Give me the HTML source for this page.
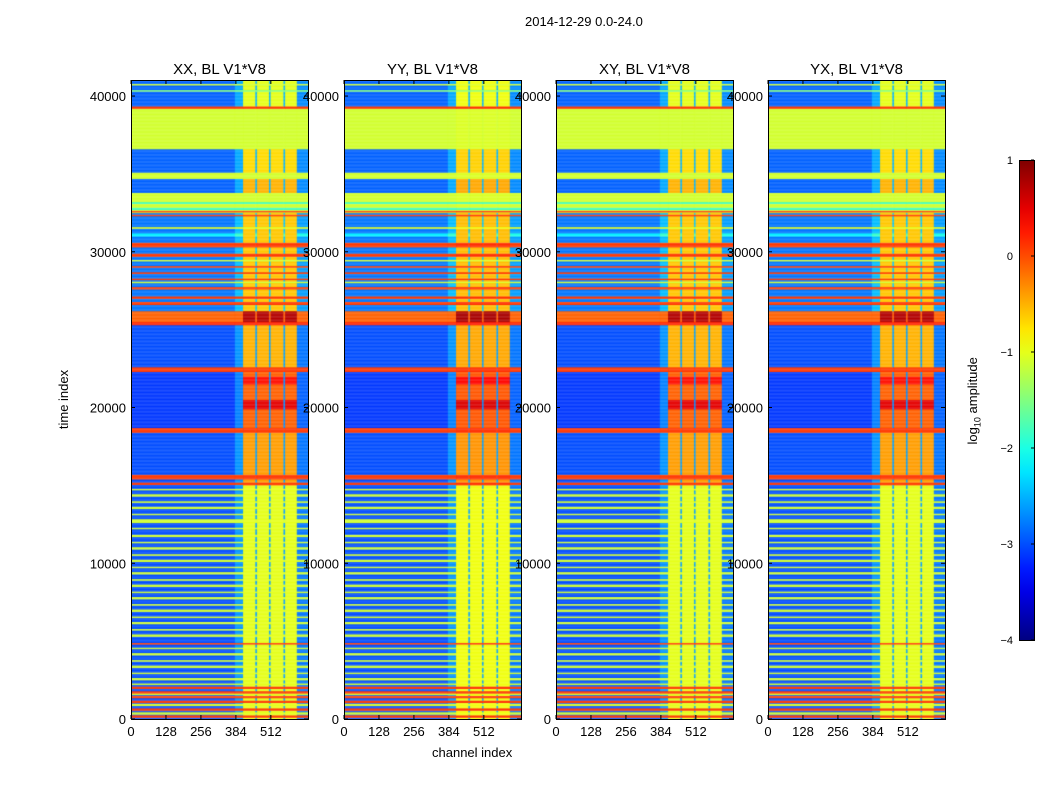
<!DOCTYPE html>
<html><head><meta charset="utf-8"><style>
body{margin:0;background:#fff;font-family:"Liberation Sans",sans-serif;}
#wrap{position:relative;width:1050px;height:800px;overflow:hidden;background:#fff}
.t{position:absolute;font-size:13px;color:#000;white-space:nowrap}
canvas{position:absolute}
</style></head><body>
<div id="wrap">
<div class="t" style="left:525px;top:14px">2014-12-29 0.0-24.0</div>
<div class="t" style="left:432px;top:745px">channel index</div>
<div class="t" style="left:34px;top:392px;transform:rotate(-90deg);transform-origin:center">time index</div>
<div class="t" style="left:930px;top:392px;transform:rotate(-90deg);transform-origin:center">log<sub style="font-size:9px">10</sub> amplitude</div>
<svg id="ax" width="1050" height="800" style="position:absolute;left:0;top:0"></svg>
</div>
<script>
const panelTitles=["XX, BL V1*V8","YY, BL V1*V8","XY, BL V1*V8","YX, BL V1*V8"];
const panelLefts=[131,344,556,768];
const xTicks=[0,128,256,384,512];
const yTicks=[0,10000,20000,30000,40000];
const cbTicks=[1,0,-1,-2,-3,-4];
const panelRfiOffset=[0,0.05,0,0];
// column bands [chStart, chEnd, kind]
const colBands=[[0,380,"bg"],[380,410,"sh"],[410,455,"rfi"],[455,461,"gap"],[461,505,"rfi"],[505,511,"gap"],[511,558,"rfi"],[558,564,"gap"],[564,607,"rfi"],[607,648,"edge"]];
// regimes [t0,t1,bgLevel,rfiLevel]
const regimes=[[0,15000,-3.0,-1.0],[15000,18400,-3.0,-0.4],[18400,22400,-3.1,-0.1],[22400,25500,-3.0,-0.5],[25500,26200,-0.1,0.75],[26200,32500,-2.8,-0.6],[32500,33800,-1.1,-1.1],[33800,34700,-2.9,-0.5],[34700,35100,-1.1,-1.1],[35100,36600,-2.9,-0.7],[36600,39200,-1.1,-1.1],[39200,41100,-2.9,-1.0]];
// overlay lines [t0,t1,bgLevel,rfiLevel]
const lines=[[100,250,0.1,0.1],[550,700,0.1,0.1],[1050,1200,0.1,0.1],[1350,1500,0.1,0.1],[1650,1800,0.1,0.1],[1950,2100,0.1,0.1],[4800,4900,0.1,0.1],
[19900,20500,-3.1,0.5],[21500,22000,-3.1,0.3],[18400,18700,0.1,0.1],[22300,22600,0.1,0.1],[15400,15700,0.1,0.1],[15050,15200,0.1,0.1],
[25300,25500,0.2,0.2],[26600,26800,0.1,0.1],[27000,27150,0.1,0.1],[27600,27750,0.1,0.1],[28200,28300,0.1,0.1],[28600,28700,0.1,0.1],[29000,29100,0.1,0.1],
[29700,29900,0.1,0.1],[30300,30600,0.1,0.1],[31500,31600,-1.0,-1.0],[32300,32400,0.1,0.1],[32550,32650,0.1,0.1],[32700,32850,-1.8,-1.8],[39200,39350,0.1,0.1],
[40300,40400,-1.5,-1.5],[40700,40800,-1.1,-1.1],[28000,28100,-1.1,-1.1],[29400,29500,-1.1,-1.1],[31000,31200,-2.2,-0.6],[33100,33200,-1.9,-1.9]];
// yellow-green stripes in the flagged-scan region [t0,t1]
const stripes=[[14700,14800],[14300,14450],[13900,14000],[13500,13650],[13100,13200],[12600,12850],[12200,12300],[11700,11850],[11300,11400],[10900,11050],[10500,10600],[10100,10250],[9700,9800],[9300,9450],[8900,9000],[8500,8650],[8100,8200],[7700,7850],[7300,7400],[6900,7050],[6500,6600],[6100,6250],[5700,5800],[5300,5450],[4500,4600],[4100,4250],[3700,3800],[3300,3450],[2900,3000],[2500,2650],[2200,2300],[1550,1650],[850,1000],[300,450]];

function jet(v){let x=(v+4)/5;x=Math.max(0,Math.min(1,x));
 const c=a=>Math.round(255*Math.max(0,Math.min(1,1.5-Math.abs(4*x-a))));return `rgb(${c(3)},${c(2)},${c(1)})`;}
function levels(t){let bg=-3,rf=-1;
 for(const r of regimes){if(t>=r[0]&&t<r[1]){bg=r[2];rf=r[3];}}
 for(const s of stripes){if(t>=s[0]&&t<s[1]){bg=-1.1;}}
 for(const l of lines){if(t>=l[0]&&t<l[1]){bg=l[2];rf=l[3];}}
 return [bg,rf];}
const T0=0,T1=41030,NCH=648,PW=177,PT=80,PB=719;
const yS=t=>PB-(t-T0)/(T1-T0)*(PB-PT);
const xS=(c,L)=>L+c/NCH*PW;
const svg=document.getElementById('ax');const NS="http://www.w3.org/2000/svg";
const wrap=document.getElementById('wrap');
function sv(tag,attrs){const e=document.createElementNS(NS,tag);for(const k in attrs)e.setAttribute(k,attrs[k]);svg.appendChild(e);return e;}
panelTitles.forEach((title,p)=>{
 const L=panelLefts[p];
 const cv=document.createElement('canvas');cv.width=PW;cv.height=PB-PT;cv.style.left=L+'px';cv.style.top=PT+'px';
 
 
 wrap.insertBefore(cv,svg);
 const g=cv.getContext('2d');
 for(let t=0;t<T1;t+=50){
  const [bg,rf]=levels(t);const y0=yS(t+50)-PT,y1=yS(t)-PT;
  for(const b of colBands){let v=bg;
   if(b[2]==="rfi")v=Math.max(bg,rf+panelRfiOffset[p]);
   else if(b[2]==="sh")v=bg<-2?bg+0.35:bg;
   else if(b[2]==="edge")v=bg<-2?bg+0.2:bg;
   else if(b[2]==="gap")v=bg<-2?bg+0.4:bg;
   g.fillStyle=jet(v);const x0=xS(b[0],0),x1=xS(b[1],0);g.fillRect(x0,y0,x1-x0+0.3,y1-y0+0.3);}
 }
 const fr=sv('rect',{x:L+0.5,y:PT+0.5,width:PW,height:PB-PT,fill:'none',stroke:'#000','stroke-width':1});
 
 
 const tt=sv('text',{x:L+PW/2,y:74,'text-anchor':'middle','font-size':15,'font-family':'Liberation Sans'});tt.textContent=title;
 
 
 xTicks.forEach(v=>{const x=xS(v,L);
  sv('line',{x1:x,x2:x,y1:PB,y2:PB-4,stroke:'#000'});sv('line',{x1:x,x2:x,y1:PT,y2:PT+4,stroke:'#000'});
  const tx=sv('text',{x:x,y:736,'text-anchor':'middle','font-size':13,'font-family':'Liberation Sans'});tx.textContent=v;
  
  });
 yTicks.forEach(v=>{const y=yS(v);
  sv('line',{x1:L,x2:L+4,y1:y,y2:y,stroke:'#000'});sv('line',{x1:L+PW,x2:L+PW-4,y1:y,y2:y,stroke:'#000'});
  const tx=sv('text',{x:L-5,y:y+5,'text-anchor':'end','font-size':13,'font-family':'Liberation Sans'});tx.textContent=v;
  
  });
});
// colorbar
const CBL=1019,CBW=15,CBT=160,CBB=640;
const defs=sv('defs',{});const lg=document.createElementNS(NS,'linearGradient');lg.setAttribute('id','jetg');lg.setAttribute('x1',0);lg.setAttribute('y1',1);lg.setAttribute('x2',0);lg.setAttribute('y2',0);defs.appendChild(lg);
for(let i=0;i<=20;i++){const s=document.createElementNS(NS,'stop');s.setAttribute('offset',i/20);s.setAttribute('stop-color',jet(-4+5*i/20));lg.appendChild(s);}
const cb=sv('rect',{x:CBL+0.5,y:CBT+0.5,width:CBW,height:CBB-CBT,fill:'url(#jetg)',stroke:'#000'});


const cyS=v=>CBB-(v+4)/5*(CBB-CBT);
cbTicks.forEach(v=>{const y=cyS(v);sv('line',{x1:CBL+CBW-3,x2:CBL+CBW,y1:y,y2:y,stroke:'#000'});
 const tx=sv('text',{x:1013,y:y+4,'text-anchor':'end','font-size':11,'font-family':'Liberation Sans'});tx.textContent=v<0?'\u2212'+(-v):v;
 
 });
</script>
</body></html>
